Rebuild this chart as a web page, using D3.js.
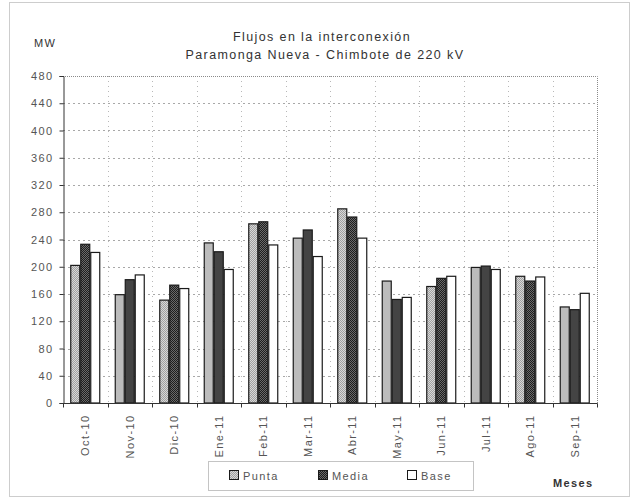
<!DOCTYPE html>
<html>
<head>
<meta charset="utf-8">
<script src="https://cdn.jsdelivr.net/npm/d3@7"></script>
<style>
  html, body { margin: 0; padding: 0; background: #fff; }
  svg { display: block; font-family: "Liberation Sans", Arial, sans-serif; }
  svg text { letter-spacing: 1.4px; }
</style>
</head>
<body>
<svg id="chart" width="632" height="501"></svg>
<script>
// Monthly flows on the Paramonga Nueva - Chimbote 220 kV link (MW)
const months = ["Oct-10", "Nov-10", "Dic-10", "Ene-11", "Feb-11", "Mar-11",
                "Abr-11", "May-11", "Jun-11", "Jul-11", "Ago-11", "Sep-11"];
const seriesNames = ["Punta", "Media", "Base"];
const punta = [202, 159, 151, 235, 263, 242, 285, 179, 171, 199, 186, 141];
const media = [233, 181, 173, 222, 266, 254, 273, 152, 183, 201, 179, 137];
const base  = [221, 188, 168, 196, 232, 215, 242, 155, 186, 196, 185, 161];
const yTicks = [0, 40, 80, 120, 160, 200, 240, 280, 320, 360, 400, 440, 480];

const seriesValues = [punta, media, base];

const svg = d3.select("#chart");
const margin = { left: 63, right: 35, top: 76, bottom: 98 };
const W = 632, H = 501;
const plotW = W - margin.left - margin.right;
const plotH = H - margin.top - margin.bottom;

// dithered fills for the bars
const defs = svg.append("defs");
function dither(id, a, b) {
  const p = defs.append("pattern").attr("id", id)
    .attr("width", 2).attr("height", 2).attr("patternUnits", "userSpaceOnUse");
  p.append("rect").attr("width", 2).attr("height", 2).attr("fill", a);
  p.append("rect").attr("width", 1).attr("height", 1).attr("fill", b);
  p.append("rect").attr("x", 1).attr("y", 1).attr("width", 1).attr("height", 1).attr("fill", b);
}
dither("fPunta", "#d8d8d8", "#a0a0a0");
dither("fMedia", "#6a6a6a", "#1e1e1e");
const fills = { Punta: "url(#fPunta)", Media: "url(#fMedia)", Base: "#ffffff" };

// outer frame
svg.append("rect")
  .attr("x", 9.5).attr("y", 2.5).attr("width", 620).attr("height", 494)
  .attr("fill", "none").attr("stroke", "#9a9a9a").attr("stroke-width", 1)
  .attr("stroke-dasharray", "1,1");

const g = svg.append("g").attr("transform", `translate(${margin.left},${margin.top})`);

const x = d3.scaleBand().domain(months).range([0, plotW]).padding(0);
const step = x.step();
const groupW = 30;
const xs = d3.scaleBand().domain(seriesNames)
  .range([(step - groupW) / 2, (step + groupW) / 2]).padding(0);
const y = d3.scaleLinear().domain([0, 480]).range([plotH, 0]);

// horizontal gridlines
g.append("g").selectAll("line").data(yTicks.filter(d => d > 0 && d < 480)).join("line")
  .attr("x1", 0).attr("x2", plotW)
  .attr("y1", d => Math.round(y(d)) + 0.5).attr("y2", d => Math.round(y(d)) + 0.5)
  .attr("stroke", "#a8a8a8").attr("stroke-dasharray", "2,3");

// vertical gridlines at category boundaries
g.append("g").selectAll("line").data(months.slice(1)).join("line")
  .attr("x1", d => Math.round(x(d)) + 0.5).attr("x2", d => Math.round(x(d)) + 0.5)
  .attr("y1", 0).attr("y2", plotH)
  .attr("stroke", "#b8b8b8").attr("stroke-dasharray", "1,4");

// plot area top/right border
g.append("path")
  .attr("d", `M0,0.5H${plotW + 0.5}V${plotH}`)
  .attr("fill", "none").attr("stroke", "#8a8a8a").attr("stroke-dasharray", "1,1");

// bars
const rows = months.map((m, i) => ({ month: m, vals: seriesNames.map((s, k) => ({ s, v: seriesValues[k][i] })) }));
g.append("g").selectAll("g").data(rows).join("g")
  .attr("transform", d => `translate(${x(d.month)},0)`)
  .selectAll("rect").data(d => d.vals).join("rect")
  .attr("x", d => xs(d.s) + 0.5)
  .attr("y", d => y(d.v))
  .attr("width", xs.bandwidth() - 1)
  .attr("height", d => plotH - y(d.v))
  .attr("fill", d => fills[d.s])
  .attr("stroke", "#1a1a1a").attr("stroke-width", 1.2);

// y axis
const yAxis = g.append("g").attr("transform", "translate(0.5,0)")
  .call(d3.axisLeft(y).tickValues(yTicks).tickSize(4).tickPadding(6).tickFormat(d3.format("d")));
yAxis.select(".domain").attr("stroke", "#333");
yAxis.selectAll(".tick line").attr("stroke", "#333");
yAxis.selectAll("text").attr("fill", "#555").attr("font-size", 11)
  .attr("font-family", "Liberation Sans, Arial, sans-serif");

// x axis with ticks at category boundaries
const xAxisG = g.append("g").attr("transform", `translate(0,${plotH + 0.5})`);
xAxisG.append("line").attr("x1", 0).attr("x2", plotW + 0.5)
  .attr("stroke", "#333");
xAxisG.selectAll("line.tk").data(d3.range(months.length + 1)).join("line").attr("class", "tk")
  .attr("x1", i => Math.round(i * step) + 0.5).attr("x2", i => Math.round(i * step) + 0.5)
  .attr("y1", 0).attr("y2", 4).attr("stroke", "#333");
xAxisG.selectAll("text").data(months).join("text")
  .attr("transform", d => `translate(${x(d) + step / 2 + 4},${11}) rotate(-90)`)
  .attr("text-anchor", "end")
  .attr("font-size", 11).attr("fill", "#555")
  .text(d => d);

// titles
svg.append("text").attr("x", 322).attr("y", 41).attr("text-anchor", "middle")
  .attr("font-size", 12.5).attr("fill", "#333").text("Flujos en la interconexión");
svg.append("text").attr("x", 325).attr("y", 59).attr("text-anchor", "middle")
  .attr("font-size", 12.5).attr("fill", "#333").text("Paramonga Nueva - Chimbote de 220 kV");
svg.append("text").attr("x", 34).attr("y", 47)
  .attr("font-size", 11).attr("fill", "#333").text("MW");
svg.append("text").attr("x", 553).attr("y", 487)
  .attr("font-size", 11).attr("font-weight", "bold").attr("fill", "#333").text("Meses");

// legend
const lg = svg.append("g").attr("transform", "translate(208,461)");
lg.append("rect").attr("x", 0.5).attr("y", 0.5).attr("width", 265).attr("height", 29)
  .attr("fill", "#fff").attr("stroke", "#888").attr("stroke-dasharray", "1,1");
const legX = [21, 110, 199];
seriesNames.forEach((s, i) => {
  lg.append("rect").attr("x", legX[i] + 0.5).attr("y", 9.5).attr("width", 9).attr("height", 9)
    .attr("fill", fills[s]).attr("stroke", "#1a1a1a").attr("stroke-width", 1);
  lg.append("text").attr("x", legX[i] + 14).attr("y", 18.5)
    .attr("font-size", 11).attr("fill", "#555").text(s);
});
</script>
</body>
</html>
